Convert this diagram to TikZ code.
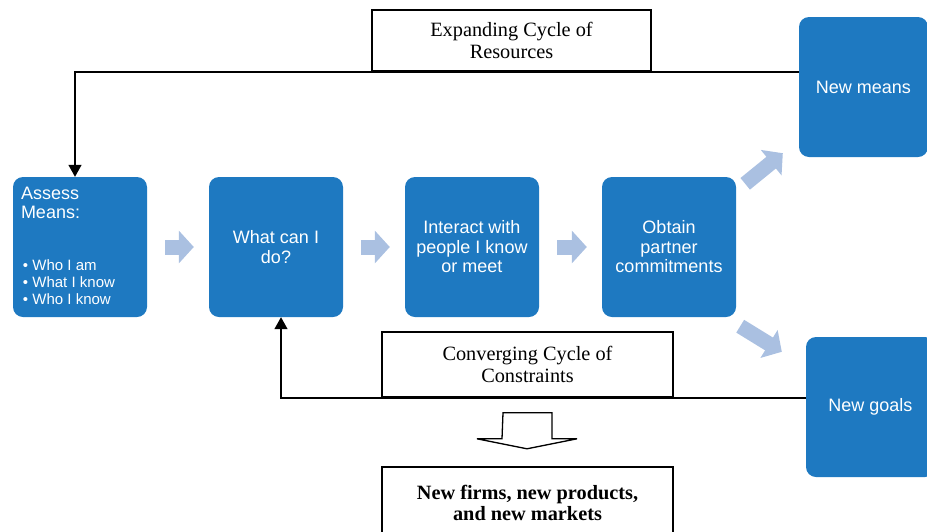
\documentclass[tikz,border=0pt]{standalone}
\usepackage{fontspec}
\setmainfont{Liberation Serif}
\newfontfamily\boxsans{Liberation Sans}
\usetikzlibrary{arrows.meta,calc,positioning}
\definecolor{stageblue}{RGB}{30,121,193}
\definecolor{flowblue}{RGB}{170,192,225}

\begin{document}
\begin{tikzpicture}[x=1pt,y=-1pt,
    stage/.style={rectangle, rounded corners=10pt, fill=stageblue, text=white,
        minimum width=134pt, minimum height=140pt, align=center, inner sep=2pt,
        font=\boxsans\fontsize{18}{19.5}\selectfont},
    cyclebox/.style={rectangle, draw, line width=1.6pt, fill=white, align=center,
        font=\fontsize{20.3}{21.5}\selectfont},
    loopline/.style={line width=1.5pt, -{Triangle[length=12pt,width=13pt]}},
    flow/.style={draw=flowblue, line width=15pt, -{Triangle[length=15pt,width=32pt]}}]
    \useasboundingbox (0,0) rectangle (927,531);

    % the process steps
    \node (assess) at (80,247)[stage] {};
    \node (cando) at (276,247)[stage] {What can I\\do?};
    \node (interact) at (472,247)[stage] {Interact with\\people I know\\or meet};
    \node (obtain) at (669,247)[stage] {Obtain\\partner\\commitments};
    \node (means) at (863.5,87)[stage, minimum width=129pt] {New means};
    \node (goals) at (870.5,407)[stage, minimum width=129pt] {New goals};

    \node (assesshead) at ($(assess.west)+(6,-44)$)[anchor=west, align=left,
        inner sep=2pt, text=white, font=\boxsans\fontsize{18}{19.5}\selectfont]
        {Assess\\Means:};
    \node (assesslist) at ($(assess.west)+(8,35)$)[anchor=west, align=left,
        inner sep=2pt, text=white, font=\boxsans\fontsize{15}{17}\selectfont]
        {\textbullet\ Who I am\\\textbullet\ What I know\\\textbullet\ Who I know};

    % the two cycles
    \node (expand) at (511.5,40.5)[cyclebox, minimum width=279pt, minimum height=61pt]
        {Expanding Cycle of\\Resources};
    \node (converge) at (527.5,364.5)[cyclebox, minimum width=291pt, minimum height=65pt]
        {Converging Cycle of\\Constraints};
    \node (result) at (527.5,503)[cyclebox, minimum width=291pt, minimum height=72pt,
        font=\bfseries\fontsize{20.3}{21.5}\selectfont]
        {New firms, new products,\\and new markets};

    \draw[loopline] (means.west |- expand.south) -| ($(assess.north)+(-5,0)$);
    \draw[loopline] (goals.west |- converge.south) -| ($(cando.south)+(5,0)$);

    \draw[flow, shorten <=18pt, shorten >=15pt] (assess) -- (cando);
    \draw[flow, shorten <=18pt, shorten >=15pt] (cando) -- (interact);
    \draw[flow, shorten <=18pt, shorten >=15pt] (interact) -- (obtain);
    \draw[flow] ($(obtain.north east)+(9,7)$) -- ($(means.south west)+(-16,-4)$);
    \draw[flow] ($(obtain.south east)+(4,9)$) -- ($(goals.north west)+(-24,15)$);

    \draw[line width=1.3pt] (converge.south) ++(-24.5,15) -- ++(49,0) -- ++(0,26)
        -- ++(25,0) -- ++(-50,10) -- ++(-50,-10) -- ++(25,0) -- cycle;
\end{tikzpicture}
\end{document}
